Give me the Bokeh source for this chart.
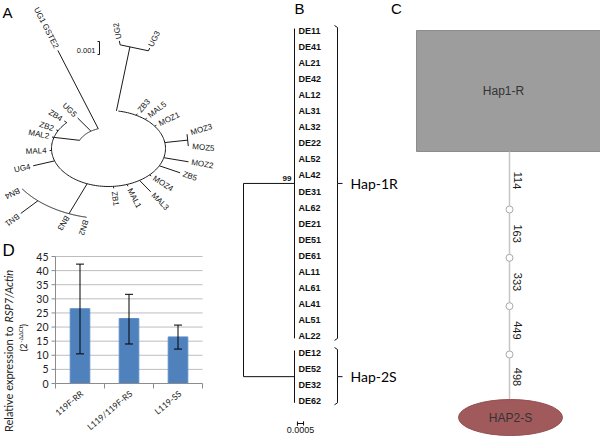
import math
import numpy as np
from bokeh.plotting import figure
from bokeh.models import Range1d
from bokeh.core.properties import value
from bokeh.embed import file_html
from bokeh.resources import INLINE

# ---------------- Panel A data: unrooted tree ----------------
ring_names = ["ZB4", "ZB2", "MAL2", "MAL4", "UG4", "ZB1", "MAL1", "MAL3", "MOZ4", "ZB5", "MOZ2", "MOZ1", "MAL5", "ZB3"]
ring_angle = [137, 152, 163, 183, 199, 275, 289, 303, 316, 333, 346, 36, 50, 61]
ring_branch = [3, 2, 2, 2, 22, 2, 2, 16, 2, 22, 25, 2, 2, 2]
ring_span = [137, 440]
moz_pair = ["MOZ3", "MOZ5"]
moz_pair_angle = 9
moz_pair_branch = 23
ug_pair = ["UG2", "UG3"]
ug_pair_angle = 82
ug_pair_depth = 2.7
inner_span = [109, 157]
inner_depth = 0.55
ug1_name = "UG1 GSTE2"
ug1_angle = 109
ug1_depth = 2.73
ug5_name = "UG5"
ug5_angle = 124
ug5_depth = 0.97
bn_names = ["BN4", "BN1", "BN3", "BN2"]
bn_angle = [-145, -132, -112, -102]
bn_tip_depth = [1.85, 2.3, 1.85, 1.85]
bn_stem_angle = -112
bn_depth = 1.85
scaleA_text = "0.001"

# ---------------- Panel B data: rooted tree ----------------
clade1_leaves = ["DE11", "DE41", "AL21", "DE42", "AL12", "AL31", "AL32", "DE22", "AL52", "AL42",
                 "DE31", "AL62", "DE21", "DE51", "DE61", "AL11", "AL61", "AL41", "AL51", "AL22"]
clade2_leaves = ["DE12", "DE52", "DE32", "DE62"]
clade_names = ["Hap-1R", "Hap-2S"]
clade_branch = [0.0042, 0.0042]
bootstrap = ["99", ""]
scaleB = 0.0005
scaleB_text = "0.0005"

# ---------------- Panel C data: haplotype network ----------------
haplotypes = ["Hap1-R", "HAP2-S"]
mutation_sites = [114, 163, 333, 449, 498]

# ---------------- Panel D data: expression ----------------
genotypes = ["119F-RR", "L119/119F-RS", "L119-SS"]
expr_mean = [26.5, 23.0, 16.5]
expr_low = [10.5, 14.0, 12.2]
expr_high = [42.3, 31.6, 20.7]
y_ticks = [0, 5, 10, 15, 20, 25, 30, 35, 40, 45]

ARIAL = "Liberation Sans"
CAL = "Lato"

# whole page canvas in page pixels (x right, y down)
PX0, PX1, PY0, PY1 = 0, 600, 0, 437

# Panel D plotting frame on the page
D_LEFT, D_RIGHT, D_BOTTOM, D_TOP = 55, 202, 383, 256
nG = len(genotypes)
ux = (D_RIGHT - D_LEFT) / nG
ymax = y_ticks[-1]
uy = (D_BOTTOM - D_TOP) / ymax
dx_range = Range1d(0.5 - (D_LEFT - PX0) / ux, nG + 0.5 + (PX1 - D_RIGHT) / ux)
dy_range = Range1d(0 - (PY1 - D_BOTTOM) / uy, ymax + (D_TOP - PY0) / uy)

p = figure(width=PX1 - PX0, height=PY1 - PY0, x_range=Range1d(PX0, PX1), y_range=Range1d(-PY1, -PY0),
           extra_x_ranges={"dx": dx_range}, extra_y_ranges={"dy": dy_range},
           output_backend="svg", toolbar_location=None,
           x_axis_location=None, y_axis_location=None, min_border=0,
           outline_line_color=None)
p.grid.visible = False


def draw_lines(segs, color="black", width=1.0):
    p.multi_line(xs=[s[0] for s in segs], ys=[[-v for v in s[1]] for s in segs],
                 line_color=color, line_width=width)


def draw_texts(items, align, size, font=ARIAL, style="normal", color="#111111", baseline="middle"):
    if not items:
        return
    p.text(x=[t[0] for t in items], y=[-t[1] for t in items], text=[t[2] for t in items],
           angle=[t[3] for t in items], text_align=align, text_baseline=baseline,
           text_font=value(font), text_font_size=size, text_font_style=style, text_color=color)


# ================= Panel A =================
CX, CY, RX, RY = 108, 148, 57, 38


def ell(th, s=1.0):
    t = math.radians(th)
    return (CX + s * RX * math.cos(t), CY - s * RY * math.sin(t))


def radial(th):
    t = math.radians(th)
    return math.atan2(RY * math.sin(t), RX * math.cos(t))


def step(pt, a, d):
    return (pt[0] + d * math.cos(a), pt[1] - d * math.sin(a))


def angle_of(p0, p1):
    return math.atan2(-(p1[1] - p0[1]), p1[0] - p0[0])


def arcpts(t0, t1, s):
    ts = np.linspace(t0, t1, 160)
    pts = [ell(t, s) for t in ts]
    return ([q[0] for q in pts], [q[1] for q in pts])


segsA = []
labL, labR = [], []


def seg(a, b):
    segsA.append(([a[0], b[0]], [a[1], b[1]]))


def leaf_label(tip, a, name, gap=3, flip=None):
    if flip is None:
        flip = math.cos(a) < -0.15
    pos = step(tip, a, gap)
    if flip:
        labR.append((pos[0], pos[1], name, a - math.pi))
    else:
        labL.append((pos[0], pos[1], name, a))


segsA.append(arcpts(ring_span[0], ring_span[1], 1.0))
for name, th, L in zip(ring_names, ring_angle, ring_branch):
    a = radial(th)
    b = ell(th)
    tip = step(b, a, L)
    seg(b, tip)
    leaf_label(tip, a, name)

# MOZ3 / MOZ5 pair
a = radial(moz_pair_angle)
b = ell(moz_pair_angle)
tip = step(b, a, moz_pair_branch)
seg(b, tip)
up = step(tip, a + math.pi / 2, 6)
dn = step(tip, a - math.pi / 2, 6)
seg(up, dn)
leaf_label(up, a + 0.2, moz_pair[0], gap=4)
leaf_label(dn, a - 0.2, moz_pair[1], gap=4)

# UG2 / UG3 pair on long stem
b = ell(ug_pair_angle, 1.0)
top = ell(ug_pair_angle, ug_pair_depth)
seg(b, top)
a = angle_of(b, top)
left = step(top, a + math.pi / 2, 10)
right = step(top, a - math.pi / 2, 19)
seg(left, right)
t2 = step(left, a + 0.4, 4)
seg(left, t2)
leaf_label(t2, a + 0.4, ug_pair[0], gap=2, flip=False)
t3 = step(right, a - 0.2, 3)
seg(right, t3)
leaf_label(t3, a - 0.26, ug_pair[1], gap=2, flip=False)

# inner node group
segsA.append(arcpts(inner_span[0], inner_span[1], inner_depth))
seg(ell(inner_span[1], inner_depth), ell(163, 1.0))
i0, i1 = ell(ug1_angle, inner_depth), ell(ug1_angle, ug1_depth)
seg(i0, i1)
leaf_label(i1, angle_of(i0, i1), ug1_name, gap=3)
u0, u1 = ell(ug5_angle, inner_depth), ell(ug5_angle, ug5_depth)
seg(u0, u1)
leaf_label(u1, angle_of(u0, u1), ug5_name, gap=3)

# BN clade
seg(ell(bn_stem_angle, 1.0), ell(bn_stem_angle, bn_depth))
segsA.append(arcpts(min(bn_angle), max(bn_angle), bn_depth))
for name, th, d in zip(bn_names, bn_angle, bn_tip_depth):
    base = ell(th, bn_depth)
    tip = ell(th, d)
    seg(base, tip)
    leaf_label(tip, radial(th), name, gap=3, flip=False)

# scale bar A
SBA_X, SBA_Y0, SBA_Y1 = 99, 41, 54
seg((SBA_X - 2, SBA_Y0), (SBA_X, SBA_Y0))
seg((SBA_X, SBA_Y0), (SBA_X, SBA_Y1))
seg((SBA_X, SBA_Y1), (SBA_X - 2, SBA_Y1))

draw_lines(segsA, color="#1a1a1a", width=1.0)
draw_texts(labL, "left", "8px")
draw_texts(labR, "right", "8px")
draw_texts([(SBA_X - 4, (SBA_Y0 + SBA_Y1) / 2 + 2, scaleA_text, 0)], "right", "7.5px")
draw_texts([(2, 12, "A", 0)], "left", "15px", color="#000000")

# ================= Panel B =================
leaves = clade1_leaves + clade2_leaves
B_TOP, B_STEP = 30.0, 16.1
root_x = 243.0
px_per_unit = 51.0 / 0.0042
leaf_y = [B_TOP + B_STEP * i for i in range(len(leaves))]
groups = [leaf_y[:len(clade1_leaves)], leaf_y[len(clade1_leaves):]]
segsB = []
node_y = []
for gy, br in zip(groups, clade_branch):
    lx = root_x + br * px_per_unit
    ny = (gy[0] + gy[-1]) / 2
    node_y.append(ny)
    segsB.append(([lx, lx], [gy[0] - 2, gy[-1] + 2]))
    segsB.append(([root_x, lx], [ny, ny]))
segsB.append(([root_x, root_x], [node_y[0], node_y[1]]))
leaf_x = root_x + clade_branch[0] * px_per_unit

BRX = 337
for gy, ny in zip(groups, node_y):
    y0, y1 = gy[0] - 5, gy[-1] + 4
    segsB.append(([BRX - 3, BRX, BRX, BRX + 5], [y0, y0 + 2, ny, ny]))
    segsB.append(([BRX - 3, BRX, BRX], [y1, y1 - 2, ny]))

sb = scaleB * px_per_unit
SBB_X, SBB_Y = 300, 423
segsB.append(([SBB_X - sb / 2, SBB_X - sb / 2, SBB_X - sb / 2, SBB_X + sb / 2, SBB_X + sb / 2, SBB_X + sb / 2],
              [SBB_Y - 2, SBB_Y + 2, SBB_Y, SBB_Y, SBB_Y - 2, SBB_Y + 2]))

draw_lines(segsB, color="#111111", width=1.0)
draw_texts([(leaf_x + 4, y, n, 0) for n, y in zip(leaves, leaf_y)], "left", "9px", style="bold")
draw_texts([(leaf_x - 3, ny - 5, bs, 0) for bs, ny in zip(bootstrap, node_y) if bs], "right", "8px", style="bold")
draw_texts([(350, ny, nm, 0) for nm, ny in zip(clade_names, node_y)], "left", "14px", font=CAL, color="#000000")
draw_texts([(SBB_X, SBB_Y + 6, scaleB_text, 0)], "center", "9px")
draw_texts([(299, 8, "B", 0), (396, 8, "C", 0)], "center", "15px", color="#000000")

# ================= Panel C =================
RECT_L, RECT_R, RECT_T, RECT_B = 416, 600, 30, 151
ELL_X, ELL_Y, ELL_W, ELL_H = 510, 417, 104, 36
LINE_X = 509
p.quad(left=[RECT_L], right=[RECT_R], top=[-RECT_T], bottom=[-RECT_B],
       fill_color="#9d9d9d", line_color="#8c8c8c")
p.segment(x0=[LINE_X], y0=[-RECT_B], x1=[LINE_X], y1=[-(ELL_Y - ELL_H / 2)],
          line_color="#c6c6c6", line_width=1.5)
n_mut = len(mutation_sites)
nodes = list(np.linspace(209, 354, n_mut - 1))
stops = [RECT_B] + nodes + [ELL_Y - ELL_H / 2]
mids = [(stops[i] + stops[i + 1]) / 2 for i in range(n_mut)]
p.scatter(x=[LINE_X] * len(nodes), y=[-v for v in nodes], size=7, marker="circle",
          fill_color="white", line_color="#a8a8a8", line_width=1)
draw_texts([(LINE_X + 8, m, str(s), -math.pi / 2) for s, m in zip(mutation_sites, mids)],
           "center", "11px", color="#1a1a1a")
p.ellipse(x=[ELL_X], y=[-ELL_Y], width=[ELL_W], height=[ELL_H],
          fill_color="#a15a5c", line_color="#93504f")
draw_texts([(503, (RECT_T + RECT_B) / 2, haplotypes[0], 0),
            (ELL_X, ELL_Y, haplotypes[1], 0)], "center", "12px", color="#333333")

# ================= Panel D (own scales: x range 'dx', y range 'dy') =================
xs = list(range(1, nG + 1))
AX = "#8c8c8c"
kw = dict(x_range_name="dx", y_range_name="dy")
p.segment(x0=[0.5] * (len(y_ticks) - 1), x1=[nG + 0.5] * (len(y_ticks) - 1),
          y0=y_ticks[1:], y1=y_ticks[1:], line_color="#bdbdbd", line_width=1, **kw)
p.vbar(x=xs, top=expr_mean, bottom=0, width=0.4, fill_color="#4f81bd", line_color="#5b8cc6", **kw)
cap = 4 / ux
p.segment(x0=xs, x1=xs, y0=expr_low, y1=expr_high, line_color="black", line_width=1, **kw)
p.segment(x0=[x - cap for x in xs] * 2, x1=[x + cap for x in xs] * 2,
          y0=expr_low + expr_high, y1=expr_low + expr_high, line_color="black", line_width=1, **kw)
p.segment(x0=[0.5], x1=[0.5], y0=[0], y1=[ymax], line_color=AX, **kw)
p.segment(x0=[0.5], x1=[nG + 0.5], y0=[0], y1=[0], line_color=AX, **kw)
p.segment(x0=[0.5 - 4 / ux] * len(y_ticks), x1=[0.5] * len(y_ticks), y0=y_ticks, y1=y_ticks,
          line_color=AX, **kw)
bnd = [x - 0.5 for x in xs] + [xs[-1] + 0.5]
p.segment(x0=bnd, x1=bnd, y0=[0] * len(bnd), y1=[-5 / uy] * len(bnd), line_color=AX, **kw)
p.text(x=[0.5 - 7 / ux] * len(y_ticks), y=y_ticks, text=[str(t) for t in y_ticks],
       text_align="right", text_baseline="middle", text_font=value(CAL),
       text_font_size="10.5px", text_color="#222222", **kw)
p.text(x=[x + 2 / ux for x in xs], y=[-9 / uy] * nG, text=genotypes, angle=0.7,
       text_align="right", text_baseline="middle", text_font=value(CAL),
       text_font_size="8.5px", text_color="#222222", **kw)

# D axis title and letter (page pixels)
TY = 322
draw_texts([(8, TY + 1, "Relative expression to ", math.pi / 2)], "right", "11px", font=CAL, color="#222222")
draw_texts([(8, TY, "RSP7/Actin", math.pi / 2)], "left", "11px", font=CAL, style="italic", color="#222222")
draw_texts([(23, 343, "(2", math.pi / 2)], "right", "9.5px", font=CAL, color="#222222")
draw_texts([(20, 342, "-\u0394\u0394Ct", math.pi / 2)], "left", "6px", font=CAL, color="#222222")
draw_texts([(23, 326, ")", math.pi / 2)], "left", "9.5px", font=CAL, color="#222222")
draw_texts([(2, 250, "D", 0)], "left", "17px", color="#000000")

open("out.html", "w").write(file_html(p, INLINE))
